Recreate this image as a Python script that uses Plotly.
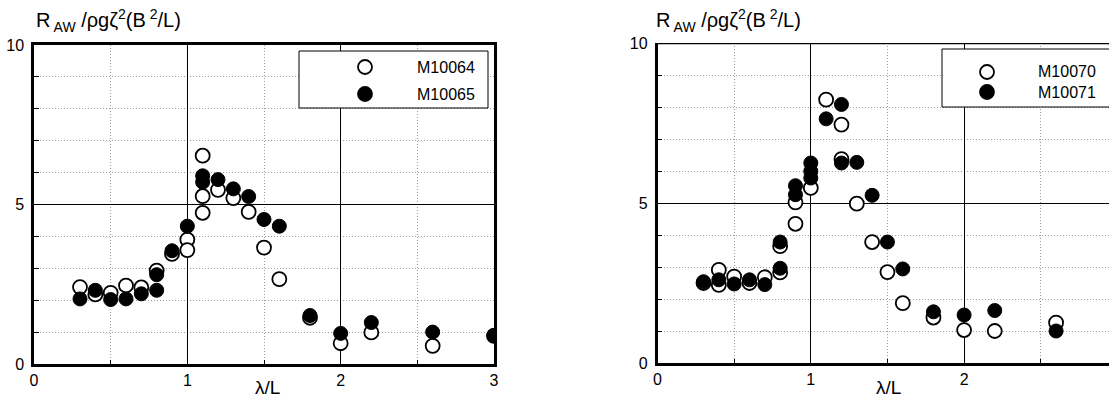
import plotly.graph_objects as go

# ---------------- data ----------------
lam_m10064 = [0.3, 0.4, 0.5, 0.6, 0.7, 0.8, 0.9, 1.0, 1.0, 1.1, 1.1, 1.1, 1.2, 1.3, 1.4, 1.5, 1.6, 1.8, 2.0, 2.2, 2.6, 3.0]
raw_m10064 = [2.41, 2.18, 2.23, 2.46, 2.40, 2.93, 3.45, 3.90, 3.57, 6.53, 5.26, 4.74, 5.46, 5.20, 4.77, 3.65, 2.66, 1.45, 0.65, 0.99, 0.57, 0.88]

lam_m10065 = [0.3, 0.4, 0.5, 0.6, 0.7, 0.8, 0.8, 0.9, 1.0, 1.1, 1.1, 1.2, 1.3, 1.4, 1.5, 1.6, 1.8, 2.0, 2.2, 2.6, 3.0]
raw_m10065 = [2.04, 2.31, 2.02, 2.04, 2.20, 2.31, 2.80, 3.55, 4.32, 5.90, 5.70, 5.78, 5.49, 5.25, 4.53, 4.32, 1.52, 0.96, 1.30, 1.00, 0.90]

lam_m10070 = [0.3, 0.4, 0.4, 0.5, 0.6, 0.7, 0.8, 0.8, 0.9, 0.9, 1.0, 1.1, 1.2, 1.2, 1.3, 1.4, 1.5, 1.6, 1.8, 2.0, 2.2, 2.6]
raw_m10070 = [2.50, 2.91, 2.44, 2.70, 2.50, 2.68, 2.83, 3.65, 4.35, 5.02, 5.47, 8.23, 7.45, 6.37, 4.98, 3.78, 2.84, 1.87, 1.42, 1.03, 1.00, 1.26]

lam_m10071 = [0.3, 0.4, 0.5, 0.6, 0.7, 0.8, 0.8, 0.9, 0.9, 1.0, 1.0, 1.0, 1.1, 1.2, 1.2, 1.3, 1.4, 1.5, 1.6, 1.8, 2.0, 2.2, 2.6]
raw_m10071 = [2.54, 2.60, 2.47, 2.60, 2.45, 2.96, 3.78, 5.54, 5.26, 6.25, 5.99, 5.78, 7.63, 8.08, 6.25, 6.27, 5.24, 3.78, 2.94, 1.60, 1.50, 1.64, 1.00]

x_ticks = [0, 1, 2, 3]
x_tick_text = ["0", "1", "2", "3"]
y_ticks = [0, 5, 10]
y_tick_text = ["0", "5", "10"]
y_title = "R<sub> AW</sub> /ρgζ<sup>2</sup>(B<sup> 2</sup>/L)"
x_title = "λ/L"

# ---------------- layout helpers ----------------
W, H = 1109, 400
FONT = "Liberation Sans, Arial, sans-serif"


def pxx(v):
    return v / W


def pxy(v):
    return 1 - v / H


open_marker = dict(symbol="circle", size=14, color="white", line=dict(color="black", width=1.8))
fill_marker = dict(symbol="circle", size=14, color="black", line=dict(color="black", width=1))

fig = go.Figure()
fig.add_trace(go.Scatter(x=lam_m10064, y=raw_m10064, mode="markers", name="M10064",
                         marker=open_marker, xaxis="x", yaxis="y", showlegend=False))
fig.add_trace(go.Scatter(x=lam_m10065, y=raw_m10065, mode="markers", name="M10065",
                         marker=fill_marker, xaxis="x", yaxis="y", showlegend=False))
fig.add_trace(go.Scatter(x=lam_m10070, y=raw_m10070, mode="markers", name="M10070",
                         marker=open_marker, xaxis="x2", yaxis="y2", showlegend=False))
fig.add_trace(go.Scatter(x=lam_m10071, y=raw_m10071, mode="markers", name="M10071",
                         marker=fill_marker, xaxis="x2", yaxis="y2", showlegend=False))

DOT = "1px,2px"
DOT_COLOR = "#9c9c9c"


def xaxis_cfg(domain, rng, mirror):
    return dict(domain=domain, range=rng, tickmode="array", tickvals=x_ticks, ticktext=x_tick_text,
                showline=True, linecolor="black", linewidth=2.5, mirror=mirror,
                showgrid=True, gridcolor="black", gridwidth=1,
                ticks="inside", ticklen=5, tickcolor="black",
                minor=dict(dtick=0.5, tick0=0, showgrid=True, gridcolor=DOT_COLOR, griddash=DOT,
                           gridwidth=1, ticks="inside", ticklen=4, tickcolor="black"),
                zeroline=False, automargin=False,
                tickfont=dict(family=FONT, size=16, color="black"), fixedrange=True)


def yaxis_cfg(domain, anchor, mirror):
    return dict(domain=domain, range=[0, 10], anchor=anchor, tickmode="array", tickvals=y_ticks,
                ticktext=y_tick_text, showline=True, linecolor="black", linewidth=2.5, mirror=mirror,
                showgrid=True, gridcolor="black", gridwidth=1,
                ticks="inside", ticklen=5, tickcolor="black",
                minor=dict(dtick=1, tick0=0, showgrid=True, gridcolor=DOT_COLOR, griddash=DOT,
                           gridwidth=1, ticks="inside", ticklen=5, tickcolor="black"),
                zeroline=False, ticklabelstandoff=4, automargin=False,
                tickfont=dict(family=FONT, size=16, color="black"), fixedrange=True)


left_x = [pxx(34), pxx(494)]
left_y = [pxy(364), pxy(45)]
right_x = [pxx(657.5), 1.0]
right_y = [pxy(363), pxy(43)]
right_xmax = (W - 657.5) / 153.3

fig.update_layout(
    width=W, height=H, margin=dict(l=0, r=0, t=0, b=0, autoexpand=False),
    paper_bgcolor="white", plot_bgcolor="white",
    font=dict(family=FONT, color="black"),
    xaxis=dict(xaxis_cfg(left_x, [0, 3], True), anchor="y"),
    yaxis=yaxis_cfg(left_y, "x", True),
    xaxis2=dict(xaxis_cfg(right_x, [0, right_xmax], False), anchor="y2"),
    yaxis2=yaxis_cfg(right_y, "x2", False),
)

shapes = []
# top border of the (clipped) right panel
shapes.append(dict(type="line", xref="x2", yref="y2", x0=0, x1=right_xmax, y0=10, y1=10,
                   line=dict(color="black", width=2.5)))

# legend boxes + keys
legends = [
    dict(box=(299, 51, 488, 108), sym_x=365, text_x=415, rows=[(67, "M10064", "open"), (94, "M10065", "fill")]),
    dict(box=(942, 49, 1120, 107), sym_x=987, text_x=1036, rows=[(72, "M10070", "open"), (92, "M10071", "fill")]),
]
annotations = []
for lg in legends:
    x0, y0, x1, y1 = lg["box"]
    shapes.append(dict(type="rect", xref="paper", yref="paper", x0=pxx(x0), x1=pxx(x1), y0=pxy(y1), y1=pxy(y0),
                       line=dict(color="black", width=1), fillcolor="white", layer="above"))
    for (ry, label, kind) in lg["rows"]:
        shapes.append(dict(type="circle", xref="paper", yref="paper", xsizemode="pixel", ysizemode="pixel",
                           xanchor=pxx(lg["sym_x"]), yanchor=pxy(ry), x0=-7, x1=7, y0=-7, y1=7,
                           fillcolor="white" if kind == "open" else "black",
                           line=dict(color="black", width=1.8), layer="above"))
        annotations.append(dict(xref="paper", yref="paper", x=pxx(lg["text_x"]), y=pxy(ry),
                                xanchor="left", yanchor="middle", showarrow=False, text=label,
                                font=dict(family=FONT, size=16, color="black")))

# axis titles
for xpix in (34, 654):
    annotations.append(dict(xref="paper", yref="paper", x=pxx(xpix), y=pxy(4), xanchor="left",
                            yanchor="top", showarrow=False, text=y_title,
                            font=dict(family=FONT, size=20, color="black")))
for xpix in (267, 888):
    annotations.append(dict(xref="paper", yref="paper", x=pxx(xpix), y=0.0, xanchor="center",
                            yanchor="bottom", showarrow=False, text=x_title,
                            font=dict(family=FONT, size=19, color="black")))

fig.update_layout(shapes=shapes, annotations=annotations)
fig.write_html("out.html", config={"displayModeBar": False},
               post_script="document.body.style.margin='0';")
